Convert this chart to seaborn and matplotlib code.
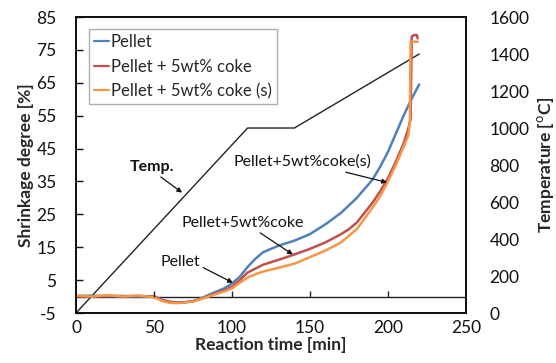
import matplotlib
matplotlib.use("Agg")
import matplotlib.pyplot as plt
import seaborn as sns
import pandas as pd

# Shrinkage curves (reaction time [min] -> shrinkage degree [%])
t_pellet = [0, 10, 20, 30, 40, 50, 55, 60, 65, 70, 75, 80, 85, 90, 95, 100, 105, 110, 115,
            120, 130, 140, 150, 160, 170, 180, 190, 195, 200, 205, 210, 215, 220]
s_pellet = [0.2, 0.3, 0.1, 0.2, 0.0, 0.1, -1.0, -1.6, -1.8, -1.7, -1.4, -0.6, 0.5, 1.5, 2.5, 4.0,
            6.0, 9.0, 11.5, 13.5, 15.5, 17.0, 19.0, 22.0, 25.5, 30.0, 35.5, 39.5, 44.0, 49.5, 55.0,
            60.0, 64.5]

t_coke = [0, 10, 20, 30, 40, 50, 55, 60, 65, 70, 75, 80, 85, 90, 95, 100, 105, 110, 115,
          120, 130, 140, 150, 160, 170, 175, 180, 185, 190, 195, 200, 205, 210, 213, 214.5,
          215.2, 216.5, 218.5, 219]
s_coke = [0.1, 0.0, 0.2, 0.1, 0.2, 0.0, -1.0, -1.6, -1.8, -1.7, -1.4, -0.7, 0.2, 1.0, 1.8, 3.0,
          5.0, 7.3, 8.5, 9.7, 11.2, 12.8, 14.5, 16.5, 19.0, 20.5, 22.5, 25.5, 28.5, 32.0, 36.0,
          41.0, 46.5, 51.0, 54.0, 79.0, 79.5, 79.5, 78.5]

t_coke_s = [0, 10, 20, 30, 40, 50, 55, 60, 65, 70, 75, 80, 85, 90, 95, 100, 105, 110, 115,
            120, 130, 140, 150, 160, 170, 180, 190, 195, 200, 205, 210, 213, 214, 214.5, 216, 219]
s_coke_s = [0.3, 0.0, 0.4, 0.0, 0.3, -0.2, -1.3, -1.9, -2.0, -1.8, -1.5, -0.8, 0.0, 0.8, 1.5, 2.5,
            4.2, 5.8, 6.8, 7.6, 8.8, 10.0, 12.0, 14.0, 16.5, 20.5, 27.0, 30.5, 35.0, 40.0, 45.5,
            49.0, 53.0, 77.5, 77.5, 77.5]

# Heating program (reaction time [min] -> temperature [°C])
t_temp = [0, 110, 140, 220]
temp = [0, 1000, 1000, 1400]

series_names = ["Pellet", "Pellet + 5wt% coke", "Pellet + 5wt% coke (s)"]
colors = ["#4F81BD", "#C0504D", "#F79646"]

x_ticks = [0, 50, 100, 150, 200, 250]
y_ticks = [-5, 5, 15, 25, 35, 45, 55, 65, 75, 85]
t_ticks = [0, 200, 400, 600, 800, 1000, 1200, 1400, 1600]

frames = []
for name, tt, ss in zip(series_names, [t_pellet, t_coke, t_coke_s], [s_pellet, s_coke, s_coke_s]):
    frames.append(pd.DataFrame({"time": tt, "shrink": ss, "sample": name}))
df = pd.concat(frames, ignore_index=True)
df_temp = pd.DataFrame({"time": t_temp, "temp": temp})

sns.set_theme(style="white")
plt.rcParams["font.family"] = ["Lato", "DejaVu Sans"]
plt.rcParams["axes.unicode_minus"] = False

fig = plt.figure(figsize=(5.56, 3.63), dpi=100)
ax = fig.add_axes([0.1367, 0.1377, 0.7014, 0.8154])
ax2 = ax.twinx()

sns.lineplot(data=df_temp, x="time", y="temp", ax=ax2, color="#222222", linewidth=1.0,
             sort=False, estimator=None, legend=False)
sns.lineplot(data=df, x="time", y="shrink", hue="sample", hue_order=series_names,
             palette=colors, ax=ax, linewidth=1.8, sort=False, estimator=None)

# put shrinkage curves in front of the temperature line
ax.set_zorder(ax2.get_zorder() + 1)
ax.patch.set_visible(False)

ax.set_xlim(0, 250)
ax.set_ylim(-5, 85)
ax2.set_ylim(0, 1600)
ax.set_xticks(x_ticks)
ax.set_yticks(y_ticks)
ax2.set_yticks(t_ticks)

# zero line with its tick marks
ax.axhline(0, color="#222222", linewidth=1.0, zorder=1)
inner = [v for v in x_ticks if 0 < v < 250]
ax.vlines(inner, 0, 1.6, color="#222222", linewidth=1.0)

ax.tick_params(axis="x", length=0, labelsize=12.5, pad=5, colors="#111111")
ax.tick_params(axis="y", direction="in", length=5, width=1, labelsize=12.5, pad=14, colors="#111111", left=True)
ax2.tick_params(axis="y", length=0, labelsize=12.5, pad=17, colors="#111111")

ax.set_xlabel("Reaction time [min]", fontsize=12.5, fontweight="bold", labelpad=1)
ax.set_ylabel("Shrinkage degree [%]", fontsize=12.5, fontweight="bold", labelpad=2)
ax2.set_ylabel("Temperature [$^{\\mathrm{o}}$C]", fontsize=12.5, fontweight="bold", labelpad=4)

for a in (ax, ax2):
    for sp in a.spines.values():
        sp.set_color("#111111")
        sp.set_linewidth(1.3)

leg = ax.legend(title=None, loc="upper left", bbox_to_anchor=(0.025, 0.97), fontsize=12,
                frameon=True, fancybox=False, handlelength=0.9, handletextpad=0.1,
                borderpad=0.3, labelspacing=0.5, borderaxespad=0.2)
leg.get_frame().set_edgecolor("#999999")
leg.get_frame().set_linewidth(1.0)
for line in leg.get_lines():
    line.set_linewidth(1.6)

arrow = dict(arrowstyle="-|>", color="#111111", lw=0.9, mutation_scale=7, shrinkA=0, shrinkB=0)
ann_font = dict(fontsize=11.5, color="#111111", ha="center", va="center")
ax.annotate("Temp.", xy=(68, 31.6), xytext=(48.7, 39.5), fontweight="bold",
            arrowprops=dict(arrow, relpos=(0.6, 0)), **ann_font)
ax.annotate("Pellet+5wt%coke(s)", xy=(199.4, 34.7), xytext=(145, 41.0),
            arrowprops=dict(arrow, relpos=(0.72, 0)), **ann_font)
ax.annotate("Pellet+5wt%coke", xy=(139, 12.8), xytext=(107, 22.5),
            arrowprops=dict(arrow, relpos=(0.6, 0)), **ann_font)
ax.annotate("Pellet", xy=(100.6, 4.2), xytext=(66.7, 10.6),
            arrowprops=dict(arrow, relpos=(1.0, 0.2)), **ann_font)

fig.savefig("out.png", dpi=100)
